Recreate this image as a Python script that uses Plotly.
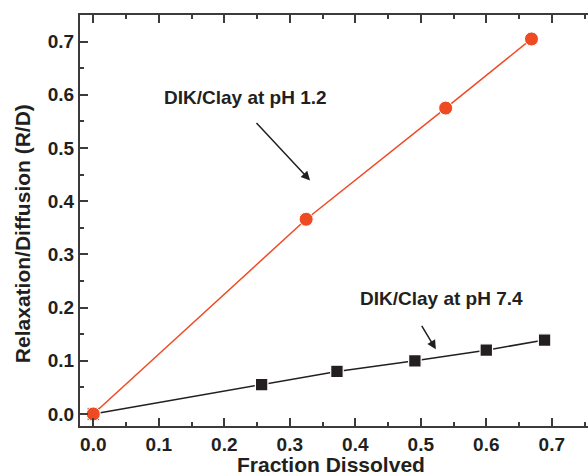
import plotly.graph_objects as go

# Fraction dissolved vs. relaxation/diffusion ratio
x_ph12 = [0.0, 0.325, 0.538, 0.669]
y_ph12 = [0.0, 0.366, 0.575, 0.705]

x_ph74 = [0.0, 0.257, 0.372, 0.491, 0.600, 0.689]
y_ph74 = [0.0, 0.055, 0.080, 0.100, 0.120, 0.139]

label_ph12 = "DIK/Clay at pH 1.2"
label_ph74 = "DIK/Clay at pH 7.4"
x_title = "Fraction Dissolved"
y_title = "Relaxation/Diffusion (R/D)"

RED = "#ef4b23"
INK = "#231f20"
AXIS = "#3c3a3b"
FONT = "Liberation Sans, Arial, sans-serif"

fig = go.Figure()

fig.add_trace(go.Scatter(
    x=x_ph74, y=y_ph74, mode="lines+markers",
    line=dict(color=INK, width=1.5),
    marker=dict(symbol="square", size=12.5, color=INK,
                line=dict(color="white", width=1.2)),
    showlegend=False, cliponaxis=False,
))
fig.add_trace(go.Scatter(
    x=x_ph12, y=y_ph12, mode="lines+markers",
    line=dict(color=RED, width=1.5),
    marker=dict(symbol="circle", size=14, color=RED,
                line=dict(color="white", width=1)),
    showlegend=False, cliponaxis=False,
))

axis_common = dict(
    showgrid=False, zeroline=False,
    showline=True, linecolor=AXIS, linewidth=2,
    ticks="inside", ticklen=8, tickwidth=1.5, tickcolor=AXIS,
    tickfont=dict(family=FONT, size=19, color=INK),
    tickformat=".1f", tickprefix="<b>", ticksuffix="</b>",
)

fig.update_xaxes(
    **axis_common,
    range=[-0.0203, 0.7553], dtick=0.1, tick0=0,
    mirror="allticks",
    minor=dict(dtick=0.05, tick0=0, ticks="inside", ticklen=4,
               tickwidth=1.5, tickcolor=AXIS),
)
fig.update_yaxes(
    **axis_common,
    range=[-0.0226, 0.750], dtick=0.1, tick0=0,
    mirror=False,
    minor=dict(dtick=0.05, tick0=0, ticks="inside", ticklen=4,
               tickwidth=1.5, tickcolor=AXIS),
)

title_font = dict(family=FONT, size=21, color=INK)
fig.add_annotation(xref="paper", yref="paper", x=0.494, y=-0.0925,
                   xanchor="center", yanchor="middle",
                   text="<b>" + x_title + "</b>", showarrow=False,
                   font=title_font)
fig.add_annotation(xref="paper", yref="paper", x=-0.114, y=0.467,
                   xanchor="center", yanchor="middle", textangle=-90,
                   text="<b>" + y_title + "</b>", showarrow=False,
                   font=title_font)

ann_font = dict(family=FONT, size=19, color=INK)
fig.add_annotation(x=0.233, y=0.594, text="<b>" + label_ph12 + "</b>",
                   showarrow=False, font=ann_font)
fig.add_annotation(x=0.331, y=0.439, ax=-55, ay=-59, text="",
                   showarrow=True, arrowhead=2, arrowsize=1.2,
                   arrowwidth=1.5, arrowcolor=INK)
fig.add_annotation(x=0.531, y=0.218, text="<b>" + label_ph74 + "</b>",
                   showarrow=False, font=ann_font)
fig.add_annotation(x=0.523, y=0.1216, ax=-15, ay=-25, text="",
                   showarrow=True, arrowhead=2, arrowsize=1.2,
                   arrowwidth=1.5, arrowcolor=INK)

fig.update_layout(
    width=588, height=476,
    margin=dict(l=80, r=0, t=15, b=50),
    paper_bgcolor="white", plot_bgcolor="white",
)

fig.write_html("out.html")
